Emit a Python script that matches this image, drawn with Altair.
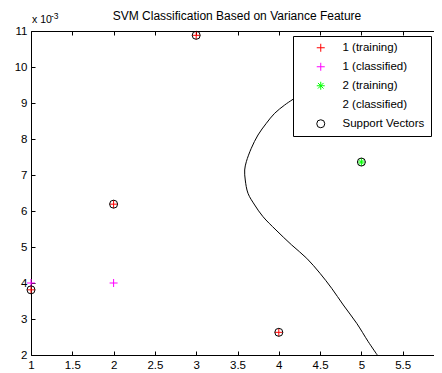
import altair as alt
import pandas as pd

# ---- data (y values in units of 1e-3) ----
series_names = ["1 (training)", "1 (classified)", "2 (training)", "2 (classified)", "Support Vectors"]

c1_train_x = [1, 2, 3, 4]
c1_train_y = [3.81, 6.19, 10.88, 2.63]
c1_class_x = [1, 2]
c1_class_y = [4.0, 4.0]
c2_train_x = [5, 6]
c2_train_y = [7.36, 3.72]
sv_x = [1, 2, 3, 4, 5, 6]
sv_y = [3.81, 6.19, 10.88, 2.63, 7.36, 3.72]

boundary_x = [4.70, 4.40, 4.172, 4.071, 3.950, 3.849, 3.748, 3.667, 3.607, 3.587, 3.594,
              3.627, 3.708, 3.809, 3.966, 4.156, 4.338, 4.499, 4.640, 4.781, 4.943,
              5.083, 5.192]
boundary_y = [9.75, 9.45, 9.103, 8.944, 8.714, 8.436, 8.111, 7.742, 7.369, 7.139, 6.861,
              6.492, 6.167, 5.842, 5.472, 5.056, 4.686, 4.269, 3.853, 3.389, 2.881,
              2.369, 2.0]

x_ticks = [1, 1.5, 2, 2.5, 3, 3.5, 4, 4.5, 5, 5.5]
y_ticks = [2, 3, 4, 5, 6, 7, 8, 9, 10, 11]

title_text = "SVM Classification Based on Variance Feature"
exp_base = "x 10"
exp_power = "-3"

# ---- tables ----
rows = []
for x, y in zip(c1_train_x, c1_train_y):
    rows.append({"x": x, "y": y, "series": series_names[0]})
for x, y in zip(c1_class_x, c1_class_y):
    rows.append({"x": x, "y": y, "series": series_names[1]})
for x, y in zip(c2_train_x, c2_train_y):
    rows.append({"x": x, "y": y, "series": series_names[2]})
for x, y in zip(sv_x, sv_y):
    rows.append({"x": x, "y": y, "series": series_names[4]})
pts = pd.DataFrame(rows)

curve = pd.DataFrame({"x": boundary_x, "y": boundary_y, "i": list(range(len(boundary_x)))})

FONT = "Liberation Sans"
PLUS = "M-1,0H1M0,-1V1"
STAR = "M-1,0H1M0,-1V1M-0.7,-0.7L0.7,0.7M-0.7,0.7L0.7,-0.7"

W, H = 413, 324

xscale = alt.Scale(domain=[1, 6], nice=False, zero=False)
yscale = alt.Scale(domain=[2, 11], nice=False, zero=False)

line = alt.Chart(curve).mark_line(color="black", strokeWidth=1, clip=True,
                                  interpolate="catmull-rom").encode(
    x=alt.X("x:Q", scale=xscale,
            axis=alt.Axis(orient="bottom", values=x_ticks, format="~g", offset=-4, tickSize=4,
                          labelPadding=4, domain=False, title=None, labelOverlap=False,
                          labelFlush=False)),
    y=alt.Y("y:Q", scale=yscale,
            axis=alt.Axis(orient="left", values=y_ticks, format="d", offset=-4, tickSize=4,
                          labelPadding=4, domain=False, title=None, labelOverlap=False,
                          labelFlush=False)),
    order="i:Q",
)

points = alt.Chart(pts).mark_point(filled=False, size=64, strokeWidth=1, opacity=1).encode(
    x=alt.X("x:Q", scale=xscale,
            axis=alt.Axis(orient="top", values=x_ticks, offset=-4, tickSize=4, labels=False,
                          domain=False, title=None)),
    y=alt.Y("y:Q", scale=yscale,
            axis=alt.Axis(orient="right", values=y_ticks, offset=-4, tickSize=4, labels=False,
                          domain=False, title=None)),
    color=alt.Color("series:N",
                    scale=alt.Scale(domain=series_names,
                                    range=["#ff0000", "#ff00ff", "#00ff00", "transparent", "#000000"]),
                    legend=alt.Legend(title=None, orient="none", legendX=262, legendY=5,
                                      padding=6, rowPadding=6, symbolOffset=16, labelOffset=16,
                                      strokeColor="black", fillColor="white", symbolSize=64,
                                      symbolStrokeWidth=1, labelFont=FONT, labelFontSize=11.5,
                                      labelColor="black", cornerRadius=0)),
    shape=alt.Shape("series:N",
                    scale=alt.Scale(domain=series_names,
                                    range=[PLUS, PLUS, STAR, PLUS, "circle"]),
                    legend=None),
)

ttl = alt.Chart(pd.DataFrame({"t": [title_text]})).mark_text(
    align="center", baseline="middle", font=FONT, fontSize=12, color="black"
).encode(text="t:N", x=alt.value(206), y=alt.value(-15))

t1 = alt.Chart(pd.DataFrame({"t": [exp_base]})).mark_text(
    align="left", baseline="alphabetic", font=FONT, fontSize=10.5, color="black"
).encode(text="t:N", x=alt.value(1), y=alt.value(-8))

t2 = alt.Chart(pd.DataFrame({"t": [exp_power]})).mark_text(
    align="left", baseline="alphabetic", font=FONT, fontSize=8.5, color="black"
).encode(text="t:N", x=alt.value(20), y=alt.value(-12))

chart = alt.layer(line, points, ttl, t1, t2).resolve_axis(x="independent", y="independent").properties(
    width=W, height=H,
    autosize=alt.AutoSizeParams(type="none"),
    padding={"left": 23, "top": 23, "right": -10, "bottom": 15},
).configure_view(stroke="black", strokeWidth=1).configure_axis(
    labelFont=FONT, labelFontSize=11.5, labelColor="black", tickColor="black", grid=False
)

chart.save("out.html", embed_options={"renderer": "svg", "actions": False})
